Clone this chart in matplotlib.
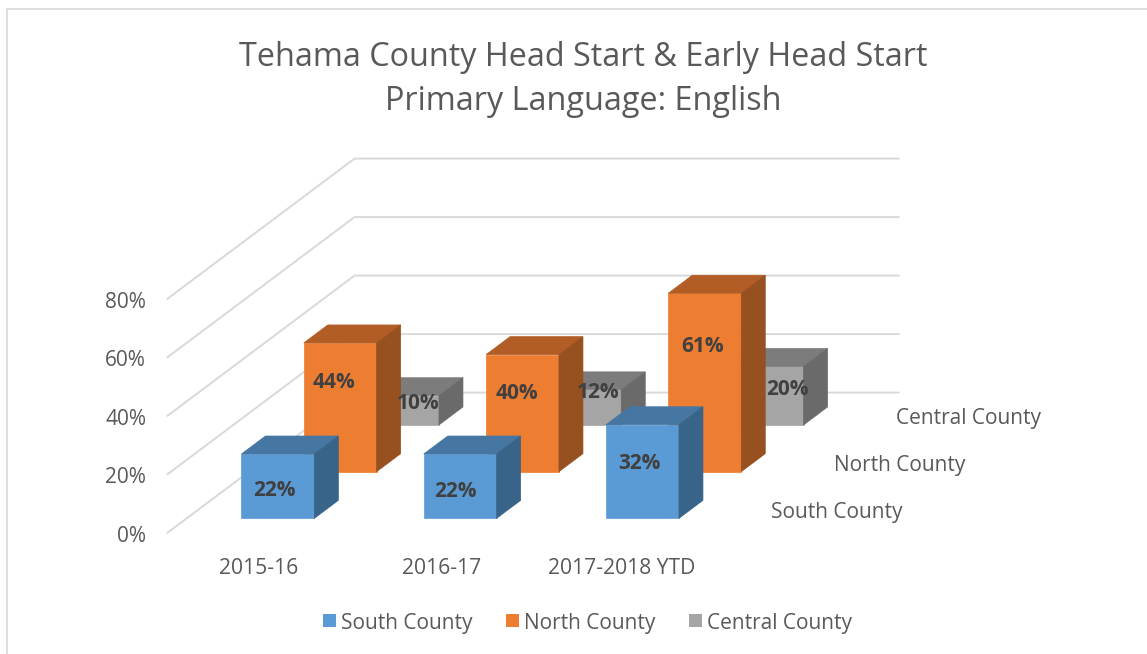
import matplotlib
matplotlib.use("Agg")
import matplotlib.pyplot as plt
from matplotlib.patches import Polygon, Rectangle

categories = ["2015-16", "2016-17", "2017-2018 YTD"]
series_names = ["South County", "North County", "Central County"]
south = [22, 22, 32]
north = [44, 40, 61]
central = [10, 12, 20]
y_ticks = [0, 20, 40, 60, 80]

# face, top, side colours per series
COLORS = [("#5B9BD5", "#4676A2", "#39648A"),
          ("#ED7D31", "#B25D25", "#97501F"),
          ("#A5A5A5", "#7C7C7C", "#6A6A6A")]
TEXT = "#595959"
LABEL = "#404040"
GRID = "#D9D9D9"
FONT = "Open Sans"

# oblique projection of the 3d box, in picture pixels
X0, Y0 = 167.6, 532.7   # front left corner of the floor
CAT_W = 182.3           # one category along x
PX_PER_PCT = 58.5 / 20  # height scale
DEPTH_X, DEPTH_Y = 62.3, -46.7  # one series step along depth
BAR_W = 0.4
BAR_D = 0.385
TEXT_DY = 4  # Open Sans sits high with va=center

# data label offsets from the middle of each bar's front face (px)
LABEL_OFF = [[(-3, 2), (-4, 3), (-3, -10)],
             [(-6, -27), (-5, -21), (-2, -38)],
             [(16, -9), (14, -17), (21, -8)]]


def proj(cat, val, depth):
    return (X0 + cat * CAT_W + depth * DEPTH_X,
            Y0 - val * PX_PER_PCT + depth * DEPTH_Y)


def draw_bar(ax, i, s, val, z):
    x0 = i + (1 - BAR_W) / 2
    x1 = x0 + BAR_W
    d0 = s + (1 - BAR_D) / 2
    d1 = d0 + BAR_D
    face, top, side = COLORS[s]
    ax.add_patch(Polygon([proj(x0, 0, d0), proj(x1, 0, d0), proj(x1, val, d0), proj(x0, val, d0)],
                         fc=face, ec=face, lw=0.5, zorder=z))
    ax.add_patch(Polygon([proj(x0, val, d0), proj(x1, val, d0), proj(x1, val, d1), proj(x0, val, d1)],
                         fc=top, ec=top, lw=0.5, zorder=z))
    ax.add_patch(Polygon([proj(x1, 0, d0), proj(x1, 0, d1), proj(x1, val, d1), proj(x1, val, d0)],
                         fc=side, ec=side, lw=0.5, zorder=z))


fig = plt.figure(figsize=(11.47, 6.54), dpi=100)
ax = fig.add_axes([0, 0, 1, 1])
ax.set_xlim(0, 1147)
ax.set_ylim(654, 0)
ax.axis("off")

# chart frame, cut by the picture edge
ax.plot([7, 7, 1147], [654, 9, 9], color=GRID, lw=1.2, zorder=1)

# walls
for t in y_ticks:
    pts = [proj(0, t, 0), proj(0, t, 3), proj(2.985, t, 3)]
    ax.plot([p[0] for p in pts], [p[1] for p in pts], color=GRID, lw=1.4, zorder=2)
    ax.text(146, proj(0, t, 0)[1] + TEXT_DY - 0.5, f"{t}%", ha="right", va="center",
            fontsize=15, color=TEXT, family=FONT)

# back to front, left to right
values = [south, north, central]
z = 3
for s in [2, 1, 0]:
    for i in range(len(categories)):
        draw_bar(ax, i, s, values[s][i], z)
        z += 1

for s in range(3):
    for i in range(len(categories)):
        xm, ym = proj(i + 0.5, values[s][i] / 2, s + 0.3)
        ox, oy = LABEL_OFF[s][i]
        ax.text(xm + ox, ym + oy + TEXT_DY - 2.5, f"{values[s][i]}%", ha="center", va="center",
                fontsize=15, fontweight="bold", color=LABEL, family=FONT, zorder=50)

ax.text(583, 53 + TEXT_DY, "Tehama County Head Start & Early Head Start", ha="center", va="center",
        fontsize=23.3, color=TEXT, family=FONT)
ax.text(583, 98 + TEXT_DY, "Primary Language: English", ha="center", va="center",
        fontsize=23.3, color=TEXT, family=FONT)

for i, c in enumerate(categories):
    ax.text(259 + i * CAT_W - (i == 2) * 1.5, 564 + TEXT_DY, c, ha="center", va="center",
            fontsize=15.2, color=TEXT, family=FONT)

for name, lx, ly in zip(series_names, [771, 834, 896], [511, 464, 417]):
    ax.text(lx, ly + 1.5, name, ha="left", va="center", fontsize=15, color=TEXT, family=FONT)

for s, (name, lx) in enumerate(zip(series_names, [323, 506, 689])):
    ax.add_patch(Rectangle((lx, 614), 13, 13, fc=COLORS[s][0], ec="none"))
    ax.text(lx + 18, 620 + TEXT_DY - 1, name, ha="left", va="center", fontsize=15, color=TEXT, family=FONT)

fig.savefig("out.png", dpi=100)
